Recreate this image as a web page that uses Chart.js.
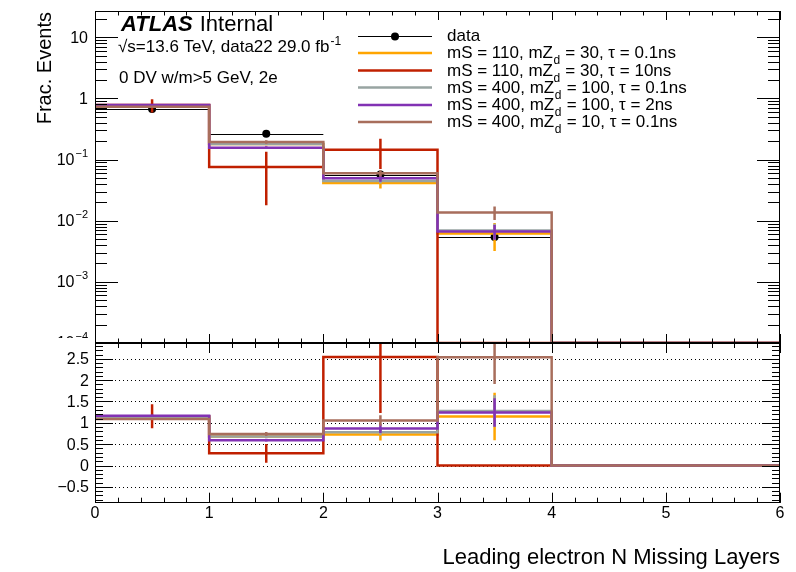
<!DOCTYPE html>
<html>
<head>
<meta charset="utf-8">
<title>Leading electron N Missing Layers</title>
<script src="https://cdn.jsdelivr.net/npm/chart.js@4.4.1/dist/chart.umd.min.js"></script>
<style>
  body { margin: 0; background: #fff; }
  #plot { position: relative; width: 796px; height: 572px; }
  #plot canvas { position: absolute; left: 0; }
</style>
</head>
<body>
<div id="plot">
  <canvas id="mainPad" width="796" height="350" style="top:0"></canvas>
  <canvas id="ratioPad" width="796" height="236" style="top:336px"></canvas>
</div>
<script>
// ---- binning ----
const binEdges = [0, 1, 2, 3, 4, 5, 6];
const binCentres = [0.5, 1.5, 2.5, 3.5, 4.5, 5.5];

// ---- data22 (normalised) ----
const dataFrac = [0.674, 0.264, 0.057, 0.0054, 0, 0];
const dataErr  = [0.006, 0.004, 0.002, 0.0006, 0, 0];

// ---- signal samples (normalised), legend order ----
const sigLabels = [
  "mS = 110, mZ_d = 30, \u03c4 = 0.1ns",
  "mS = 110, mZ_d = 30, \u03c4 = 10ns",
  "mS = 400, mZ_d = 100, \u03c4 = 0.1ns",
  "mS = 400, mZ_d = 100, \u03c4 = 2ns",
  "mS = 400, mZ_d = 10, \u03c4 = 0.1ns"
];
const sigColours = ["#ffa500", "#c02000", "#98a4a2", "#8232b4", "#a86e5c"];

const sig110_30_01  = [0.772, 0.180, 0.0416, 0.0062, 0, 0];
const sig110_30_10  = [0.779, 0.076, 0.145, 0, 0, 0];
const sig400_100_01 = [0.769, 0.180, 0.0445, 0.0069, 0, 0];
const sig400_100_2  = [0.786, 0.157, 0.0496, 0.0067, 0, 0];
const sig400_10_01  = [0.733, 0.195, 0.060, 0.0137, 0, 0];

const err110_30_01  = [0.015, 0.008, 0.008, 0.003, 0, 0];
const err110_30_10  = [0.19, 0.058, 0.075, 0, 0, 0];
const err400_100_01 = [0.012, 0.006, 0.004, 0.002, 0, 0];
const err400_100_2  = [0.02, 0.008, 0.006, 0.0018, 0, 0];
const err400_10_01  = [0.012, 0.013, 0.007, 0.0034, 0, 0];

const sigValues = [sig110_30_01, sig110_30_10, sig400_100_01, sig400_100_2, sig400_10_01];
const sigErrors = [err110_30_01, err110_30_10, err400_100_01, err400_100_2, err400_10_01];

// ---- axes ----
const xTickVals = [0, 1, 2, 3, 4, 5, 6];
const xTickLabels = ["0", "1", "2", "3", "4", "5", "6"];
const logTickVals = [10, 1, 1e-1, 1e-2, 1e-3, 1e-4];
const logTickLabels = [["10", ""], ["1", ""], ["10", "\u22121"], ["10", "\u22122"], ["10", "\u22123"], ["10", "\u22124"]];
const ratioTickVals = [-0.5, 0, 0.5, 1, 1.5, 2, 2.5];
const ratioTickLabels = ["\u22120.5", "0", "0.5", "1", "1.5", "2", "2.5"];

const UPPER_MIN = 1e-4, UPPER_MAX = 27;
const RATIO_MIN = -0.87, RATIO_MAX = 2.87;

const FONT = "'Liberation Sans', Arial, Helvetica, sans-serif";
const font = (px, style) => (style ? style + " " : "") + px + "px " + FONT;

// minor ticks (style only)
const xMinor = [];
for (let i = 0; i <= 30; i++) xMinor.push(i * 0.2);
const ratioMinor = [];
for (let i = -8; i <= 28; i++) ratioMinor.push(i * 0.1);
const logMinor = [];
[1e-4, 1e-3, 1e-2, 1e-1, 1, 10].forEach(d => {
  for (let k = 2; k <= 9; k++) if (k * d < UPPER_MAX) logMinor.push(k * d);
});

// step-histogram points from bin contents
function stepPoints(values, floor) {
  return binEdges.map((e, i) => {
    const v = values[Math.min(i, values.length - 1)];
    return { x: e, y: (floor !== undefined && !(v > 0)) ? floor : v };
  });
}

function ratioOf(values) {
  return values.map((v, i) => dataFrac[i] > 0 ? v / dataFrac[i] : 0);
}
function ratioErrOf(errors) {
  return errors.map((e, i) => dataFrac[i] > 0 ? e / dataFrac[i] : 0);
}

// ---- drawing helpers ----
function clipTo(ctx, a) {
  ctx.beginPath();
  ctx.rect(a.left, a.top, a.right - a.left, a.bottom - a.top);
  ctx.clip();
}

function drawErrorBars(chart, ds) {
  const eb = ds.errBars;
  if (!eb) return;
  const { ctx, chartArea: a, scales: { x, y } } = chart;
  const lo = y.min;
  ctx.save();
  clipTo(ctx, a);
  ctx.strokeStyle = ds.borderColor;
  ctx.lineWidth = eb.width;
  ctx.beginPath();
  eb.values.forEach((v, i) => {
    if (!(v > 0)) return;
    const px = x.getPixelForValue(binCentres[i]);
    const e = eb.errors[i];
    const yTop = y.getPixelForValue(v + e);
    const yBot = y.getPixelForValue(Math.max(v - e, lo));
    ctx.moveTo(px, yTop);
    ctx.lineTo(px, yBot);
    if (eb.xbar) {
      const py = Math.round(y.getPixelForValue(v)) + 0.5;
      ctx.moveTo(x.getPixelForValue(binEdges[i]), py);
      ctx.lineTo(x.getPixelForValue(binEdges[i + 1]), py);
    }
  });
  ctx.stroke();
  ctx.restore();
}

function drawFrame(ctx, a) {
  ctx.save();
  ctx.strokeStyle = "#000";
  ctx.lineWidth = 1;
  ctx.strokeRect(Math.round(a.left) + 0.5, Math.round(a.top) + 0.5,
    Math.round(a.right - a.left) - 1, Math.round(a.bottom - a.top) - 1);
  ctx.restore();
}

function drawYTicks(ctx, a, scale, vals, len) {
  ctx.beginPath();
  vals.forEach(v => {
    const py = scale.getPixelForValue(v);
    if (py < a.top - 0.5 || py > a.bottom + 0.5) return;
    const p = Math.round(py) + 0.5;
    ctx.moveTo(a.left, p); ctx.lineTo(a.left + len, p);
    ctx.moveTo(a.right, p); ctx.lineTo(a.right - len, p);
  });
  ctx.stroke();
}

function drawXTicks(ctx, a, scale, vals, len) {
  ctx.beginPath();
  vals.forEach(v => {
    const p = Math.round(scale.getPixelForValue(v)) + 0.5;
    ctx.moveTo(p, a.bottom); ctx.lineTo(p, a.bottom - len);
    ctx.moveTo(p, a.top); ctx.lineTo(p, a.top + len);
  });
  ctx.stroke();
}

function drawSubText(ctx, str, x, y, size) {
  const parts = str.split("_d");
  ctx.font = font(size);
  ctx.fillText(parts[0], x, y);
  let cx = x + ctx.measureText(parts[0]).width;
  if (parts.length > 1) {
    ctx.font = font(Math.round(size * 0.7));
    ctx.fillText("d", cx + 0.5, y + 6);
    cx += ctx.measureText("d").width + 1;
    ctx.font = font(size);
    ctx.fillText(parts[1], cx, y);
  }
}

// ---- upper pad ----
const upperDecor = {
  id: "upperDecor",
  afterDatasetDraw(chart, args) {
    drawErrorBars(chart, chart.data.datasets[args.index]);
  },
  afterDraw(chart) {
    const { ctx, chartArea: a, scales: { x, y } } = chart;
    ctx.save();
    ctx.strokeStyle = "#000";
    ctx.fillStyle = "#000";
    ctx.lineWidth = 1;
    drawFrame(ctx, a);
    drawYTicks(ctx, a, y, logTickVals, 23);
    drawYTicks(ctx, a, y, logMinor, 12);
    drawXTicks(ctx, a, x, xTickVals, 9);
    drawXTicks(ctx, a, x, xMinor, 4.5);

    // y tick labels (pad boundary cuts the lowest one)
    ctx.save();
    ctx.beginPath(); ctx.rect(0, 0, a.left, 338); ctx.clip();
    ctx.textBaseline = "middle";
    ctx.textAlign = "left";
    logTickVals.forEach((v, i) => {
      const py = y.getPixelForValue(v);
      const [base, sup] = logTickLabels[i];
      ctx.font = font(16);
      const wb = ctx.measureText(base).width;
      ctx.font = font(11);
      const ws = sup ? ctx.measureText(sup).width + 1 : 0;
      const x0 = 88 - wb - ws;
      ctx.font = font(16);
      ctx.fillText(base, x0, py + 1);
      if (sup) { ctx.font = font(11); ctx.fillText(sup, x0 + wb + 1, py - 6); }
    });
    ctx.restore();

    // y title
    ctx.save();
    ctx.translate(51, 12);
    ctx.rotate(-Math.PI / 2);
    ctx.font = font(20);
    ctx.textAlign = "right";
    ctx.textBaseline = "alphabetic";
    ctx.fillText("Frac. Events", 0, 0);
    ctx.restore();

    // ATLAS label
    ctx.textAlign = "left";
    ctx.textBaseline = "alphabetic";
    ctx.font = font(22, "italic bold");
    ctx.fillText("ATLAS", 121, 31);
    const wA = ctx.measureText("ATLAS").width;
    ctx.font = font(22);
    ctx.fillText("Internal", 121 + wA + 7, 31);

    ctx.font = font(17);
    const lumi = "\u221as=13.6 TeV, data22 29.0 fb";
    ctx.fillText(lumi, 118, 52);
    const wl = ctx.measureText(lumi).width;
    ctx.font = font(12);
    ctx.fillText("-1", 118 + wl + 1, 45);
    ctx.font = font(17);
    ctx.fillText("0 DV w/m>5 GeV, 2e", 119, 83);

    // legend
    const rows = [36, 53, 70.5, 87.5, 105, 122];
    ctx.strokeStyle = "#000";
    ctx.lineWidth = 1;
    ctx.beginPath();
    ctx.moveTo(358, rows[0] + 0.5); ctx.lineTo(432, rows[0] + 0.5);
    ctx.stroke();
    ctx.beginPath();
    ctx.arc(395, rows[0] + 0.5, 4, 0, Math.PI * 2);
    ctx.fill();
    ctx.font = font(17);
    ctx.fillText("data", 447, rows[0] + 5);
    sigLabels.forEach((lab, i) => {
      const ry = rows[i + 1];
      ctx.strokeStyle = sigColours[i];
      ctx.lineWidth = 2.5;
      ctx.beginPath();
      ctx.moveTo(358, ry); ctx.lineTo(432, ry);
      ctx.stroke();
      ctx.fillStyle = "#000";
      drawSubText(ctx, lab, 447, ry + 5, 17);
    });
    ctx.restore();
  }
};

const upperDatasets = [{
  label: "data",
  data: binCentres.map((c, i) => ({ x: c, y: dataFrac[i] > 0 ? dataFrac[i] : null })),
  showLine: false,
  pointRadius: 4,
  pointBackgroundColor: "#000",
  pointBorderWidth: 0,
  borderColor: "#000",
  order: 6,
  errBars: { values: dataFrac, errors: dataErr, xbar: true, width: 1 }
}].concat(sigValues.map((vals, i) => ({
  label: sigLabels[i],
  data: stepPoints(vals, UPPER_MIN),
  stepped: "before",
  borderColor: sigColours[i],
  borderWidth: 2.5,
  pointRadius: 0,
  fill: false,
  order: 5 - i,
  errBars: { values: vals, errors: sigErrors[i], xbar: false, width: 2.5 }
})));

new Chart(document.getElementById("mainPad"), {
  type: "line",
  data: { datasets: upperDatasets },
  options: {
    responsive: false,
    animation: false,
    devicePixelRatio: 1,
    events: [],
    layout: { padding: { left: 0, right: 16, top: 11, bottom: 7 } },
    plugins: { legend: { display: false }, tooltip: { enabled: false } },
    scales: {
      x: {
        type: "linear", min: 0, max: 6,
        ticks: { display: false }, grid: { display: false }, border: { display: false },
        afterFit: s => { s.height = 0; }
      },
      y: {
        type: "logarithmic", min: UPPER_MIN, max: UPPER_MAX,
        ticks: { display: false }, grid: { display: false }, border: { display: false },
        afterFit: s => { s.width = 95; }
      }
    }
  },
  plugins: [upperDecor]
});

// ---- ratio pad ----
const ratioDecor = {
  id: "ratioDecor",
  beforeDatasetsDraw(chart) {
    const { ctx, scales: { y } } = chart;
    ctx.save();
    ctx.strokeStyle = "#000";
    ctx.lineWidth = 1;
    ctx.setLineDash([1, 3]);
    ctx.beginPath();
    ratioTickVals.forEach(v => {
      const p = Math.round(y.getPixelForValue(v)) + 0.5;
      ctx.moveTo(115, p); ctx.lineTo(763, p);
    });
    ctx.stroke();
    ctx.restore();
  },
  afterDatasetDraw(chart, args) {
    drawErrorBars(chart, chart.data.datasets[args.index]);
  },
  afterDraw(chart) {
    const { ctx, chartArea: a, scales: { x, y } } = chart;
    ctx.save();
    ctx.strokeStyle = "#000";
    ctx.fillStyle = "#000";
    ctx.lineWidth = 1;
    drawFrame(ctx, a);
    drawYTicks(ctx, a, y, ratioTickVals, 18);
    drawYTicks(ctx, a, y, ratioMinor, 8);
    drawXTicks(ctx, a, x, xTickVals, 10);
    drawXTicks(ctx, a, x, xMinor, 5);

    ctx.font = font(16);
    ctx.textAlign = "right";
    ctx.textBaseline = "middle";
    ratioTickVals.forEach((v, i) => {
      ctx.fillText(ratioTickLabels[i], 89, y.getPixelForValue(v) + 1);
    });
    ctx.textAlign = "center";
    ctx.textBaseline = "alphabetic";
    xTickVals.forEach((v, i) => {
      ctx.fillText(xTickLabels[i], x.getPixelForValue(v), 182);
    });
    ctx.font = font(22);
    ctx.textAlign = "right";
    ctx.fillText("Leading electron N Missing Layers", 780, 228);
    ctx.restore();
  }
};

const ratioDatasets = sigValues.map((vals, i) => {
  const r = ratioOf(vals);
  return {
    label: sigLabels[i],
    data: stepPoints(r),
    stepped: "before",
    borderColor: sigColours[i],
    borderWidth: 2.5,
    pointRadius: 0,
    fill: false,
    order: 5 - i,
    errBars: { values: r, errors: ratioErrOf(sigErrors[i]), xbar: false, width: 2.5 }
  };
});

new Chart(document.getElementById("ratioPad"), {
  type: "line",
  data: { datasets: ratioDatasets },
  options: {
    responsive: false,
    animation: false,
    devicePixelRatio: 1,
    events: [],
    layout: { padding: { left: 0, right: 16, top: 7, bottom: 69.3 } },
    plugins: { legend: { display: false }, tooltip: { enabled: false } },
    scales: {
      x: {
        type: "linear", min: 0, max: 6,
        ticks: { display: false }, grid: { display: false }, border: { display: false },
        afterFit: s => { s.height = 0; }
      },
      y: {
        type: "linear", min: RATIO_MIN, max: RATIO_MAX,
        ticks: { display: false }, grid: { display: false }, border: { display: false },
        afterFit: s => { s.width = 95; }
      }
    }
  },
  plugins: [ratioDecor]
});
</script>
</body>
</html>
